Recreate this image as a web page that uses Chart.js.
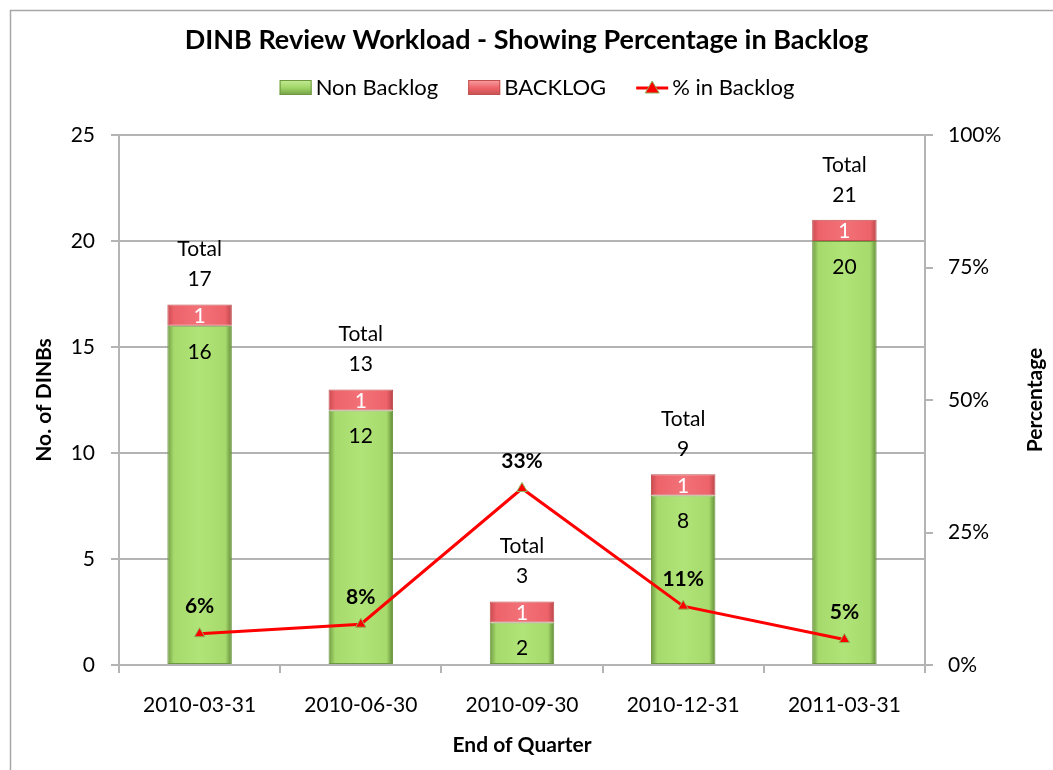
<!DOCTYPE html>
<html><head><meta charset="utf-8">
<script src="https://cdn.jsdelivr.net/npm/chart.js@4.4.1/dist/chart.umd.min.js"></script>
<style>html,body{margin:0;padding:0;background:#fff;}canvas{display:block}</style>
</head><body>
<canvas id="c" width="1053" height="770"></canvas>
<script>
// ---- data ----
const categories = ['2010-03-31', '2010-06-30', '2010-09-30', '2010-12-31', '2011-03-31'];
const nonBacklog = [16, 12, 2, 8, 20];
const backlog = [1, 1, 1, 1, 1];
const pctBacklog = [0.059, 0.077, 0.333, 0.111, 0.048];
const seriesNames = ['Non Backlog', 'BACKLOG', '% in Backlog'];
const chartTitle = 'DINB Review Workload - Showing Percentage in Backlog';
const xTitle = 'End of Quarter';
const yTitle = 'No. of DINBs';
const y1Title = 'Percentage';

const FONT = 'Lato, "Open Sans", "DejaVu Sans", sans-serif';
Chart.defaults.font.family = FONT;
Chart.defaults.color = '#000';
const GRID = '#b4b4b4';

function barGradient(ctx, c0, c1, edgeL, edgeR) {
  const chart = ctx.chart;
  if (!chart.chartArea || !chart.scales.x) return c0;
  const xs = chart.scales.x;
  const cx = xs.getPixelForValue(ctx.dataIndex);
  const half = xs.width / categories.length * 0.4 / 2;
  const g = chart.ctx.createLinearGradient(cx - half, 0, cx + half, 0);
  g.addColorStop(0, edgeL);
  g.addColorStop(0.1, c0);
  g.addColorStop(0.5, c1);
  g.addColorStop(0.9, c0);
  g.addColorStop(1, edgeR);
  return g;
}

const framePlugin = {
  id: 'frame',
  beforeDraw(chart) {
    const c = chart.ctx;
    c.save();
    c.fillStyle = '#fff';
    c.fillRect(0, 0, chart.width, chart.height);
    c.strokeStyle = '#a6a6a6';
    c.lineWidth = 1.5;
    c.strokeRect(10.5, 10.5, chart.width + 20, chart.height + 20);
    c.restore();
  }
};

const legendPlugin = {
  id: 'customLegend',
  afterDraw(chart) {
    const c = chart.ctx;
    c.save();
    c.font = '22px ' + FONT;
    c.textBaseline = 'middle';
    const y = 88;
    const sw = 32, gap = 4, itemGap = 30;
    const ds = chart.data.datasets;
    const widths = ds.map(d => c.measureText(d.label).width);
    let total = 0;
    widths.forEach(w => total += sw + gap + w);
    total += itemGap * (ds.length - 1);
    let x = 537 - total / 2;
    ds.forEach((d, i) => {
      if (d.type === 'line') {
        c.strokeStyle = '#ff0000';
        c.lineWidth = 3;
        c.beginPath(); c.moveTo(x, y); c.lineTo(x + sw, y); c.stroke();
        c.fillStyle = '#ff0000';
        c.strokeStyle = '#8db35a';
        c.lineWidth = 1;
        c.beginPath();
        c.moveTo(x + sw / 2, y - 7); c.lineTo(x + sw / 2 + 7, y + 5); c.lineTo(x + sw / 2 - 7, y + 5); c.closePath();
        c.fill(); c.stroke();
      } else {
        const g = c.createLinearGradient(0, y - 8, 0, y + 8);
        g.addColorStop(0, d.legendLight); g.addColorStop(0.5, d.legendMain); g.addColorStop(1, d.legendDark);
        c.fillStyle = g;
        c.fillRect(x, y - 8, sw, 15);
        c.strokeStyle = d.legendDark; c.lineWidth = 1;
        c.strokeRect(x + 0.5, y - 7.5, sw - 1, 14);
      }
      c.fillStyle = '#000';
      c.textAlign = 'left';
      c.fillText(d.label, x + sw + gap, y);
      x += sw + gap + widths[i] + itemGap;
    });
    // right axis title, reading bottom to top
    const ca = chart.chartArea;
    c.font = 'bold 21px ' + FONT;
    c.textAlign = 'center';
    c.translate(1035, (ca.top + ca.bottom) / 2);
    c.rotate(-Math.PI / 2);
    c.fillText(y1Title, 0, 0);
    c.restore();
  }
};

const labelPlugin = {
  id: 'valueLabels',
  afterDatasetsDraw(chart) {
    const c = chart.ctx;
    c.save();
    c.textAlign = 'center';
    c.textBaseline = 'middle';
    const mG = chart.getDatasetMeta(0), mR = chart.getDatasetMeta(1), mL = chart.getDatasetMeta(2);
    c.font = '21px ' + FONT;
    mG.data.forEach((bar, i) => {
      c.fillStyle = '#000';
      c.fillText(String(nonBacklog[i]), bar.x, bar.y + 26);
    });
    mR.data.forEach((bar, i) => {
      c.fillStyle = '#fff';
      c.fillText(String(backlog[i]), bar.x, (bar.y + bar.base) / 2 + 1);
      c.fillStyle = '#000';
      c.fillText(String(nonBacklog[i] + backlog[i]), bar.x, bar.y - 25);
      c.fillText('Total', bar.x, bar.y - 55);
    });
    c.font = 'bold 21px ' + FONT;
    mL.data.forEach((pt, i) => {
      c.fillStyle = '#000';
      c.fillText(Math.round(pctBacklog[i] * 100) + '%', pt.x, pt.y - 27);
    });
    c.restore();
  }
};

new Chart(document.getElementById('c'), {
  data: {
    labels: categories,
    datasets: [
      {
        type: 'bar', label: seriesNames[0], data: nonBacklog, yAxisID: 'y', order: 1,
        backgroundColor: ctx => barGradient(ctx, '#a6da6c', '#b0e478', '#6f9a42', '#5f8a36'),
        borderColor: '#6d9741', borderWidth: 1, borderSkipped: false,
        legendLight: '#c4ec94', legendMain: '#9fd466', legendDark: '#6d9741'
      },
      {
        type: 'bar', label: seriesNames[1], data: backlog, yAxisID: 'y', order: 1,
        backgroundColor: ctx => barGradient(ctx, '#ee636a', '#f27178', '#c94a51', '#b8444a'),
        borderColor: '#c0504d', borderWidth: 1, borderSkipped: false,
        legendLight: '#f7a0a4', legendMain: '#ee636a', legendDark: '#c0504d'
      },
      {
        type: 'line', label: seriesNames[2], data: pctBacklog, yAxisID: 'y1', order: 0,
        borderColor: '#ff0000', borderWidth: 3, backgroundColor: '#ff0000',
        pointStyle: 'triangle', pointRadius: 6, pointBackgroundColor: '#ff0000',
        pointBorderColor: '#8db35a', pointBorderWidth: 1, tension: 0, fill: false
      }
    ]
  },
  options: {
    responsive: false,
    animation: false,
    layout: { padding: 0 },
    datasets: { bar: { categoryPercentage: 1.0, barPercentage: 0.4 } },
    plugins: {
      legend: { display: false },
      tooltip: { enabled: false },
      title: {
        display: true, text: chartTitle, color: '#000',
        font: { size: 27, weight: 'bold', family: FONT },
        padding: { top: 24, bottom: 78.6 }
      }
    },
    scales: {
      x: {
        stacked: true,
        grid: { display: true, drawOnChartArea: false, offset: true, tickLength: 8, color: GRID, lineWidth: 2 },
        border: { display: true, color: GRID, width: 2 },
        ticks: { font: { size: 21 }, color: '#000', padding: 20, maxRotation: 0 },
        title: { display: true, text: xTitle, font: { size: 21, weight: 'bold' }, color: '#000', padding: { bottom: 12 } },
        afterFit(s) { s.height = 105; }
      },
      y: {
        stacked: true, position: 'left', min: 0, max: 25,
        ticks: { stepSize: 5, font: { size: 21 }, color: '#000', padding: 16 },
        grid: { color: GRID, lineWidth: 2, tickLength: 8 },
        border: { display: true, color: GRID, width: 2 },
        title: { display: true, text: yTitle, font: { size: 21, weight: 'bold' }, color: '#000', padding: { top: 32 } },
        afterFit(s) { s.width = 119; }
      },
      y1: {
        position: 'right', min: 0, max: 1,
        ticks: { stepSize: 0.25, font: { size: 21 }, color: '#000', padding: 15,
          callback: v => Math.round(v * 100) + '%' },
        grid: { drawOnChartArea: false, color: GRID, lineWidth: 2, tickLength: 8 },
        border: { display: true, color: GRID, width: 2 },
        afterFit(s) { s.width = 128; }
      }
    }
  },
  plugins: [framePlugin, legendPlugin, labelPlugin]
});
</script>
</body></html>
